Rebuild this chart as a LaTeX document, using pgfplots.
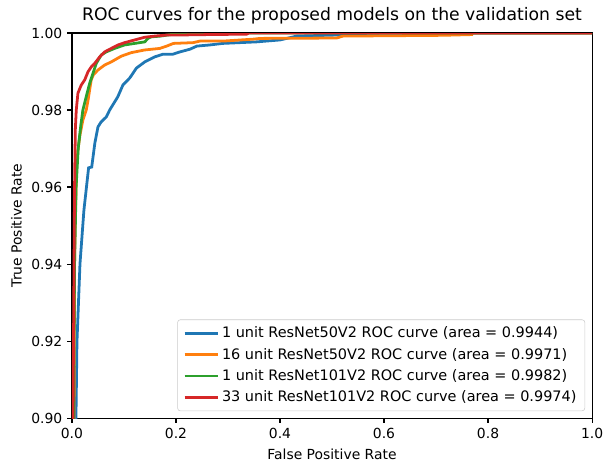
\documentclass[border=0pt]{standalone}
\usepackage{fontspec}
\setmainfont{DejaVu Sans}
\usepackage{pgfplots}
\pgfplotsset{compat=1.18}
\definecolor{tabblue}{HTML}{1F77B4}
\definecolor{taborange}{HTML}{FF7F0E}
\definecolor{tabgreen}{HTML}{2CA02C}
\definecolor{tabred}{HTML}{D62728}
\begin{document}
\begin{tikzpicture}
\begin{axis}[
  scale only axis,
  width=374.4pt, height=277.2pt,
  xmin=0, xmax=1, ymin=0.9, ymax=1,
  axis line style={black, line width=0.8pt},
  tick style={black, line width=0.8pt},
  tick align=outside,
  xtick pos=bottom, ytick pos=left,
  major tick length=3.5pt,
  xtick={0,0.2,0.4,0.6,0.8,1.0},
  ytick={0.90,0.92,0.94,0.96,0.98,1.00},
  xticklabel style={/pgf/number format/.cd, fixed, fixed zerofill, precision=1},
  yticklabel style={/pgf/number format/.cd, fixed, fixed zerofill, precision=2},
  /pgf/number format/assume math mode=true,
  ticklabel style={font=\fontsize{10}{12}\selectfont},
  scaled ticks=false,
  xlabel={False Positive Rate},
  ylabel={True Positive Rate},
  label style={font=\fontsize{10}{12}\selectfont},
  xlabel style={yshift=-1pt},
  ylabel style={yshift=0pt},
  title={ROC curves for the proposed models on the validation set},
  title style={font=\fontsize{12.4}{14}\selectfont, yshift=-3pt},
  legend style={at={(1,0)}, xshift=-5pt, yshift=5pt, anchor=south east,
    draw=black!20, rounded corners=2pt, fill=white, fill opacity=0.8, text opacity=1,
    font=\fontsize{10.4}{12.4}\selectfont, row sep=2pt, inner xsep=4pt, inner ysep=3pt},
  legend cell align=left,
  legend image code/.code={\draw[#1, line width=2pt] (0pt,0pt) -- (24pt,0pt);},
  clip=true,
]
\addplot[tabblue, line width=2pt] coordinates {
(0,0) (0.0077,0.900) (0.0096,0.9197) (0.0154,0.940) (0.023,0.954) (0.032,0.965)
(0.038,0.9652) (0.044,0.9714) (0.050,0.9756) (0.056,0.9769) (0.066,0.9782)
(0.0725,0.980) (0.088,0.9834) (0.098,0.9865) (0.111,0.9883) (0.124,0.9909)
(0.140,0.9925) (0.159,0.9938) (0.175,0.9945) (0.194,0.9945) (0.2077,0.9951)
(0.227,0.9958) (0.240,0.9966) (0.265,0.9969) (0.290,0.9973) (0.355,0.9977)
(0.400,0.9982) (0.432,0.9992) (0.515,0.9995) (0.525,0.9998) (0.60,1.0) (1,1)
};
\addlegendentry{1 unit ResNet50V2 ROC curve (area = 0.9944)}
\addplot[taborange, line width=2pt] coordinates {
(0,0) (0.004,0.900) (0.005,0.940) (0.0063,0.9514) (0.009,0.9657) (0.0115,0.9696)
(0.0154,0.9735) (0.021,0.9774) (0.0275,0.980) (0.031,0.9826) (0.037,0.9878)
(0.041,0.9891) (0.050,0.9904) (0.063,0.9917) (0.0756,0.9925) (0.095,0.994)
(0.114,0.9949) (0.140,0.9956) (0.169,0.996) (0.182,0.9966) (0.195,0.9973)
(0.233,0.9975) (0.246,0.9979) (0.290,0.9979) (0.348,0.9984) (0.362,0.9986)
(0.509,0.9987) (0.521,0.9992) (0.713,0.9994) (0.769,0.9996) (0.77,1.0) (1,1)
};
\addlegendentry{16 unit ResNet50V2 ROC curve (area = 0.9971)}
\addplot[tabgreen, line width=2pt] coordinates {
(0,0) (0.003,0.90) (0.005,0.94) (0.008,0.96) (0.012,0.970) (0.017,0.976)
(0.021,0.980) (0.0275,0.9835) (0.034,0.9869) (0.0404,0.9895) (0.0467,0.9921)
(0.0563,0.9943) (0.066,0.9951) (0.082,0.9960) (0.101,0.9969) (0.1206,0.9973)
(0.140,0.9977) (0.146,0.9986) (0.1525,0.9990) (0.17,0.9992) (0.21,1.0) (1,1)
};
\addlegendentry{1 unit ResNet101V2 ROC curve (area = 0.9982)}
\addplot[tabred, line width=2pt] coordinates {
(0,0) (0.002,0.90) (0.004,0.94) (0.005,0.96) (0.0065,0.975) (0.0083,0.980)
(0.0115,0.9844) (0.0179,0.9865) (0.0244,0.9878) (0.0308,0.9899) (0.0371,0.9912)
(0.0437,0.9921) (0.0533,0.9938) (0.0629,0.9951) (0.0756,0.9960) (0.0885,0.9969)
(0.1013,0.9975) (0.1206,0.9982) (0.1398,0.9989) (0.159,0.9992) (0.1846,0.9995)
(0.214,0.9995) (0.265,0.9996) (0.336,0.9997) (0.34,1.0) (1,1)
};
\addlegendentry{33 unit ResNet101V2 ROC curve (area = 0.9974)}
\end{axis}
\pgfresetboundingbox
\path (current axis.south west) ++(-51.8pt,-31pt) coordinate (bl);
\path (current axis.north east) ++(8.6pt,23.8pt) coordinate (tr);
\path[use as bounding box] (bl) rectangle (tr);
\end{tikzpicture}
\end{document}
